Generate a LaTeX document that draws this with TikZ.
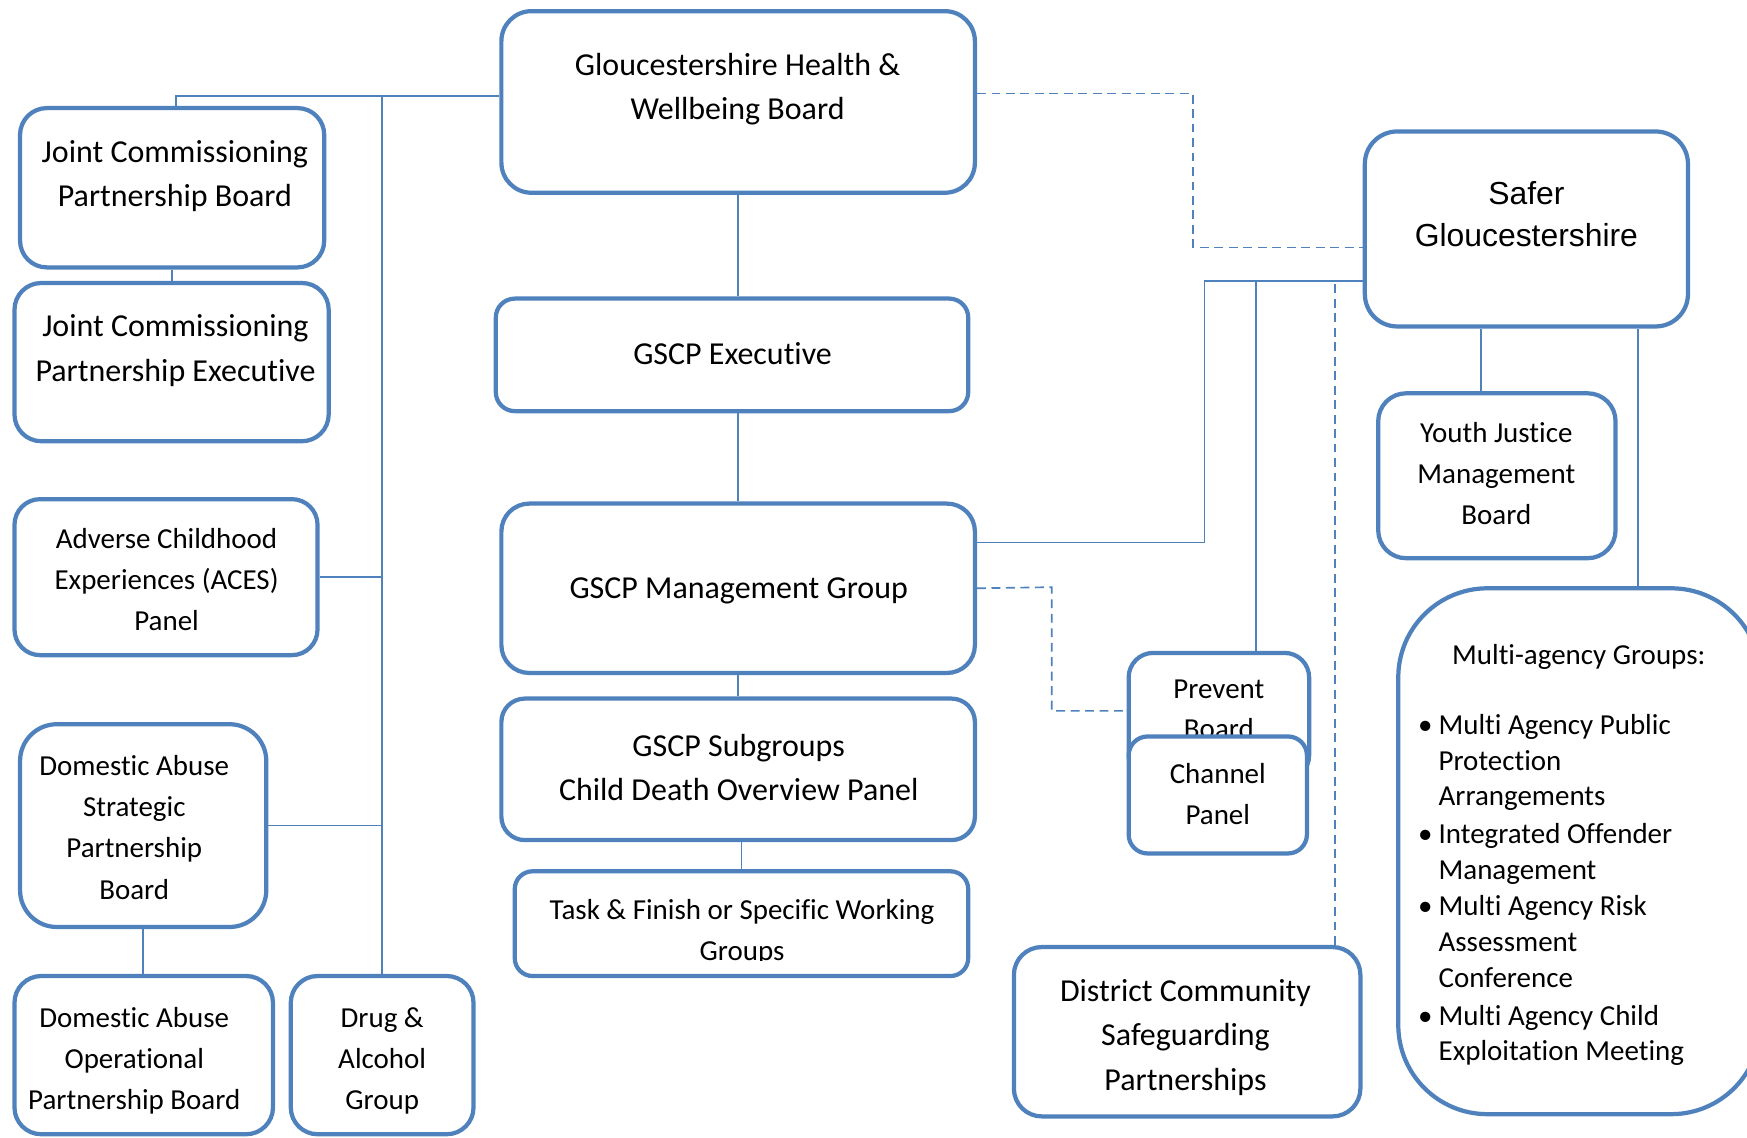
\documentclass[tikz,border=0pt]{standalone}
\usepackage{fontspec}
\setmainfont[Ligatures=NoCommon]{Carlito}
\newfontfamily\arialf{Liberation Sans}
\usetikzlibrary{calc}
\definecolor{bblue}{RGB}{79,129,189}
\begin{document}
\begin{tikzpicture}[x=1pt,y=-1pt,
  box/.style={draw=bblue, line width=3.8pt, fill=white, inner sep=0pt},
  lbl/.style={inner sep=0pt, align=center, text=black},
  big/.style={font=\fontsize{28.7}{40}\selectfont},
  sml/.style={font=\fontsize{26}{37}\selectfont},
  conn/.style={draw=bblue, line width=1.5pt},
  dconn/.style={draw=bblue, line width=1.5pt, dash pattern=on 8pt off 5pt}]
\useasboundingbox (0,0) rectangle (1568,1021);
\clip (0,0) rectangle (1568,1021);

% ---- boxes ----
\node[box, rounded corners=27pt, minimum width=425pt, minimum height=163pt] (hwb) at (662.5,91.5) {};
\node[lbl,big] (hwbt) at (662,80) {Gloucestershire Health \&\\Wellbeing Board};

\node[box, rounded corners=24pt, minimum width=273pt, minimum height=143pt] (jcpb) at (154.5,168.5) {};
\node[lbl,big] (jcpbt) at (157,158) {Joint Commissioning\\Partnership Board};

\node[box, rounded corners=24pt, minimum width=282pt, minimum height=142pt] (jcpe) at (154,325) {};
\node[lbl,big] (jcpet) at (157.5,314.5) {Joint Commissioning\\Partnership Executive};

\node[box, rounded corners=23pt, minimum width=272pt, minimum height=140pt] (aces) at (149,518) {};
\node[lbl,sml] (acest) at (149.5,520) {Adverse Childhood\\Experiences (ACES)\\Panel};

\node[box, rounded corners=33pt, minimum width=221pt, minimum height=182pt] (daspb) at (128.5,741) {};
\node[lbl,sml] (daspbt) at (120.5,742.5) {Domestic Abuse\\Strategic\\Partnership\\Board};

\node[box, rounded corners=24pt, minimum width=232pt, minimum height=142pt] (daopb) at (129,947) {};
\node[lbl,sml] (daopbt) at (120.5,952) {Domestic Abuse\\Operational\\Partnership Board};

\node[box, rounded corners=24pt, minimum width=164pt, minimum height=142pt] (drug) at (343,947) {};
\node[lbl,sml] (drugt) at (343,952) {Drug \&\\Alcohol\\Group};

\node[box, rounded corners=17pt, minimum width=424pt, minimum height=101pt] (exec) at (657,318.5) {};
\node[lbl,big] (exect) at (657.5,317) {GSCP Executive};

\node[box, rounded corners=25pt, minimum width=425pt, minimum height=152pt] (mgmt) at (662.5,528) {};
\node[lbl,big] (mgmtt) at (663,530) {GSCP Management Group};

\node[box, rounded corners=21pt, minimum width=425pt, minimum height=127pt] (subg) at (662.5,690.5) {};
\node[lbl,big] (subgt) at (663,689) {GSCP Subgroups\\Child Death Overview Panel};

\node[box, rounded corners=16pt, minimum width=407pt, minimum height=94pt] (task) at (665.5,829) {};
\begin{scope}
\clip (462,782) rectangle (869,862);
\node[lbl,sml] (taskt) at (666,836.5) {Task \& Finish or Specific Working\\Groups};
\end{scope}

\node[box, rounded corners=29pt, minimum width=290pt, minimum height=175pt] (safer) at (1370,205.5) {};
\node[lbl,font=\arialf\fontsize{28.6}{38}\selectfont] (safert) at (1370,192) {Safer\\Gloucestershire};

\node[box, rounded corners=25pt, minimum width=213pt, minimum height=148pt] (yjmb) at (1343.5,427) {};
\node[lbl,sml] (yjmbt) at (1343,425) {Youth Justice\\Management\\Board};

\node[box, rounded corners=80pt, minimum width=325pt, minimum height=472pt] (multi) at (1417.5,764) {};
\node[lbl,font=\fontsize{26}{32}\selectfont] (multih) at (1417,590) {Multi-agency Groups:};
\node[anchor=west, inner sep=0pt, font=\fontsize{26}{32}\selectfont] (mi1) at (1267,684.7)
  {\begin{tabular}{@{}c@{}l@{}}\makebox[24pt][c]{•}&Multi Agency Public\\&Protection\\&Arrangements\end{tabular}};
\node[anchor=west, inner sep=0pt, font=\fontsize{26}{32}\selectfont] (mi2) at (1267,766.7)
  {\begin{tabular}{@{}c@{}l@{}}\makebox[24pt][c]{•}&Integrated Offender\\&Management\end{tabular}};
\node[anchor=west, inner sep=0pt, font=\fontsize{26}{32}\selectfont] (mi3) at (1267,847.7)
  {\begin{tabular}{@{}c@{}l@{}}\makebox[24pt][c]{•}&Multi Agency Risk\\&Assessment\\&Conference\end{tabular}};
\node[anchor=west, inner sep=0pt, font=\fontsize{26}{32}\selectfont] (mi4) at (1267,929.7)
  {\begin{tabular}{@{}c@{}l@{}}\makebox[24pt][c]{•}&Multi Agency Child\\&Exploitation Meeting\end{tabular}};

\node[box, rounded corners=22pt, minimum width=162pt, minimum height=114pt] (prevent) at (1094,643) {};
\node[lbl,font=\fontsize{26}{36}\selectfont] (preventt) at (1094,637) {Prevent\\Board};
\node[box, rounded corners=17pt, minimum width=160pt, minimum height=105pt] (channel) at (1093,713.5) {};
\node[lbl,sml] (channelt) at (1093,712.5) {Channel\\Panel};

\node[box, rounded corners=25pt, minimum width=311pt, minimum height=152pt] (dcsp) at (1065.5,926) {};
\node[lbl,big] (dcspt) at (1064,931) {District Community\\Safeguarding\\Partnerships};

% ---- connectors ----
\coordinate (hwbL) at ([yshift=5.5pt]hwb.west);
\draw[conn] (hwbL) -| ([xshift=3.5pt]jcpb.north);
\draw[conn] (drug.north) -- (drug.north |- hwbL);
\draw[conn] (aces.east) -- (aces.east -| drug.north);
\draw[conn] (daspb.east) -- (daspb.east -| drug.north);
\draw[conn] (jcpb.south) -- (jcpb.south |- jcpe.north);
\draw[conn] (daspb.south) -- (daspb.south |- daopb.north);
\draw[conn] (hwb.south) -- (hwb.south |- exec.north);
\draw[conn] (mgmt.north) -- (mgmt.north |- exec.south);
\draw[conn] (mgmt.south) -- (subg.north);
\draw[conn] (task.north) -- (task.north |- subg.south);

\coordinate (sj) at ([yshift=-46.5pt]safer.west);
\coordinate (mk) at (1081,252);
\draw[conn] ([yshift=41pt]mgmt.east) -| (mk) -- (sj);
\draw[conn] ([xshift=33pt]prevent.north) -- ([xshift=33pt]prevent.north |- sj);
\draw[dconn] ([xshift=132.5pt]dcsp.north) -- ([xshift=132.5pt]dcsp.north |- sj);
\draw[conn] ([xshift=-14.5pt]yjmb.north) -- ([xshift=-14.5pt]yjmb.north |- safer.south);
\draw[conn] ([xshift=52.5pt]multi.north) -- ([xshift=52.5pt]multi.north |- safer.south);

\coordinate (dk) at (1071,84);
\draw[dconn] ([yshift=7.5pt]hwb.east) -- (dk) |- ([yshift=-16.5pt]safer.west);
\coordinate (pk) at (944,527);
\draw[dconn] (mgmt.east) -- (pk) |- ([yshift=5pt]prevent.west);
\end{tikzpicture}
\end{document}
